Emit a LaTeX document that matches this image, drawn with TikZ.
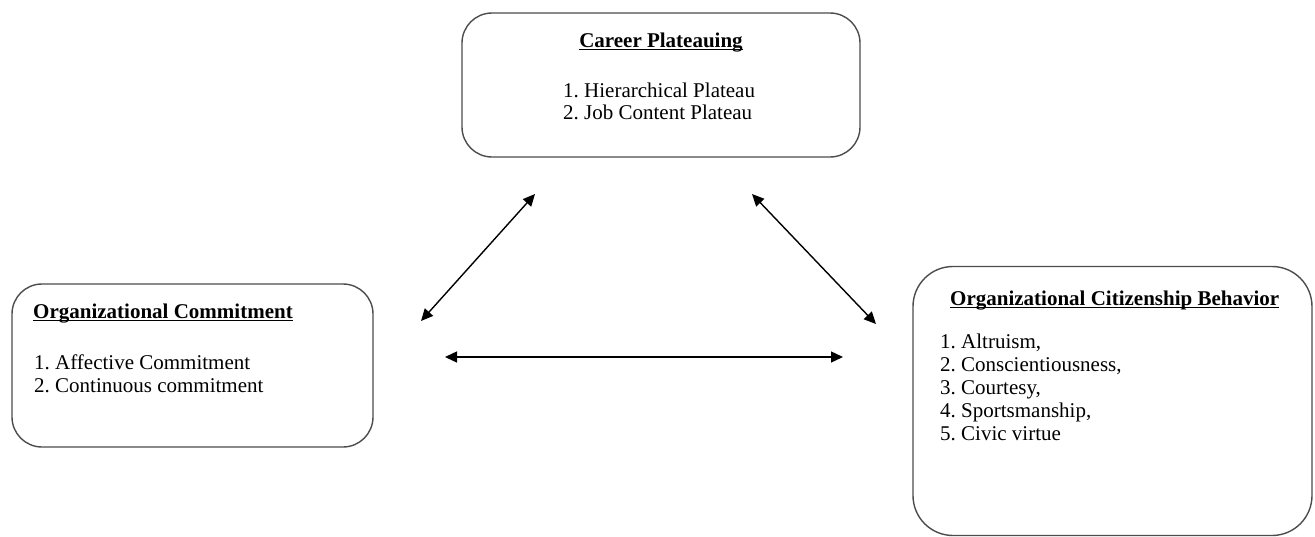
\documentclass[tikz,border=0pt]{standalone}
\usepackage{fontspec}
\setmainfont{Liberation Serif}
\usetikzlibrary{arrows.meta}
\newcommand{\ulx}[1]{\setbox0\hbox{#1}\rlap{\rule[-3pt]{\wd0}{1.2pt}}\box0}
\frenchspacing
\begin{document}
\begin{tikzpicture}[x=1pt,y=-1pt,
  box/.style={draw=black!70, line width=1.4pt, rounded corners=30pt, inner sep=0pt},
  ttl/.style={font=\bfseries\fontsize{21}{23}\selectfont, inner sep=0pt},
  itm/.style={font=\fontsize{21}{23}\selectfont, inner sep=0pt, anchor=base west},
  link/.style={line width=1.4pt, {Triangle[length=12pt,width=11pt]}-{Triangle[length=12pt,width=11pt]}}]
\useasboundingbox (0,0) rectangle (1315,536);
% boxes
\node[box, minimum width=398pt, minimum height=144pt] (cp) at (661,85) {};
\node[box, minimum width=361pt, minimum height=163pt] (oc) at (192.5,365.5) {};
\node[box, rounded corners=40pt, minimum width=399pt, minimum height=269pt] (ocb) at (1112.5,401) {};
% Career Plateauing
\node[ttl, anchor=base] (cpt) at (661,47) {\ulx{Career Plateauing}};
\node[itm] (cp1) at (563,97) {1. Hierarchical Plateau};
\node[itm] (cp2) at (563,119) {2. Job Content Plateau};
% Organizational Commitment
\node[ttl, anchor=base west] (oct) at (33,318) {\ulx{Organizational Commitment}};
\node[itm] (oc1) at (34,369) {1. Affective Commitment};
\node[itm] (oc2) at (34,392) {2. Continuous commitment};
% OCB
\node[ttl, anchor=base west] (ocbt) at (950,305) {\ulx{Organizational Citizenship Behavior}};
\node[itm] (ocb1) at (940,348) {1. Altruism,};
\node[itm] (ocb2) at (940,371) {2. Conscientiousness,};
\node[itm] (ocb3) at (940,394) {3. Courtesy,};
\node[itm] (ocb4) at (940,417) {4. Sportsmanship,};
\node[itm] (ocb5) at (940,440) {5. Civic virtue};
% arrow ends
\coordinate (a1) at (421,321);
\coordinate (a2) at (535,194);
\coordinate (b1) at (752,194);
\coordinate (b2) at (876,324);
\coordinate (c1) at (445,357);
\coordinate (c2) at (843,357);
\draw[link] (a1) -- (a2);
\draw[link] (b1) -- (b2);
\draw[link] (c1) -- (c2);
\end{tikzpicture}
\end{document}
